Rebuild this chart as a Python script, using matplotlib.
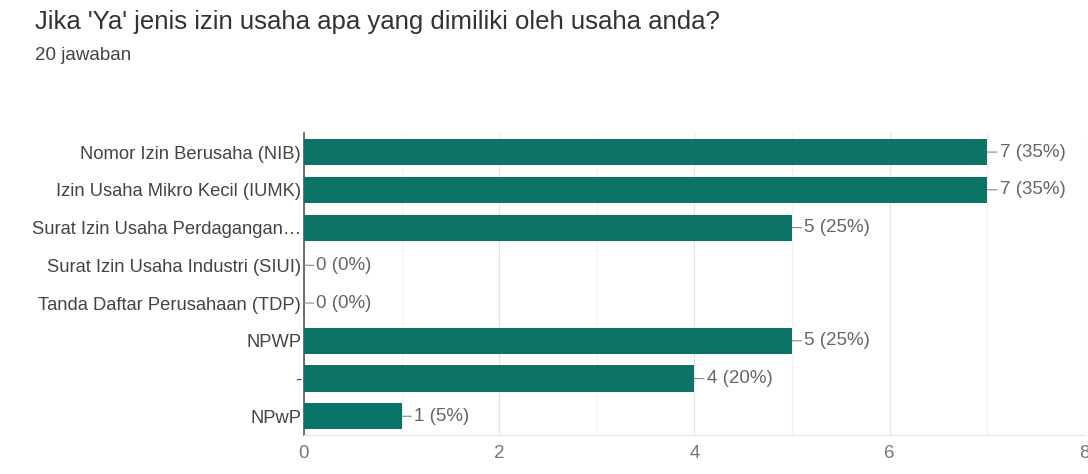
import matplotlib.pyplot as plt
import numpy as np

categories = ['Nomor Izin Berusaha (NIB)', 'Izin Usaha Mikro Kecil (IUMK)',
              'Surat Izin Usaha Perdagangan…', 'Surat Izin Usaha Industri (SIUI)',
              'Tanda Daftar Perusahaan (TDP)', 'NPWP', '-', 'NPwP']
counts = [7, 7, 5, 0, 0, 5, 4, 1]
percents = [35, 35, 25, 0, 0, 25, 20, 5]
xticks = [0, 2, 4, 6, 8]

plt.rcParams['font.family'] = ['Liberation Sans', 'DejaVu Sans']

fig = plt.figure(figsize=(10.88, 4.74), dpi=100)
ax = fig.add_axes([0.2794, 0.082, 0.7176, 0.637])

y = np.arange(len(categories))
ax.barh(y, counts, height=0.69, color='#0b7466', zorder=3)
ax.set_ylim(len(categories) - 0.5, -0.5)
ax.set_xlim(0, 8)

for i, (c, p) in enumerate(zip(counts, percents)):
    ax.annotate(f'{c} ({p}%)', xy=(c, i), xytext=(9, 0), textcoords='offset points',
                va='center', ha='left', fontsize=13.5, color='#666666',
                arrowprops=dict(arrowstyle='-', color='#888888', lw=0.8,
                                shrinkA=0, shrinkB=0))

ax.set_yticks(y)
ax.set_yticklabels(categories, fontsize=13.2, color='#444444')
ax.set_xticks(xticks)
ax.set_xticklabels([str(t) for t in xticks], fontsize=13.5, color='#777777')
ax.set_xticks([1, 3, 5, 7], minor=True)
ax.tick_params(axis='both', length=0, pad=7)
ax.tick_params(axis='y', pad=2)
ax.tick_params(axis='x', which='minor', length=0)
ax.grid(axis='x', which='major', color='#e4e4e4', lw=0.9, zorder=0)
ax.grid(axis='x', which='minor', color='#f2f2f2', lw=0.9, zorder=0)
for s in ['top', 'right']:
    ax.spines[s].set_visible(False)
ax.spines['bottom'].set_color('#e8e8e8')
ax.spines['left'].set_color('#555555')
ax.spines['left'].set_linewidth(1.2)

fig.text(0.032, 0.953, "Jika 'Ya' jenis izin usaha apa yang dimiliki oleh usaha anda?",
         fontsize=18.5, color='#333333', va='center')
fig.text(0.032, 0.882, '20 jawaban', fontsize=13.5, color='#444444', va='center')

fig.savefig('out.png', dpi=100)
